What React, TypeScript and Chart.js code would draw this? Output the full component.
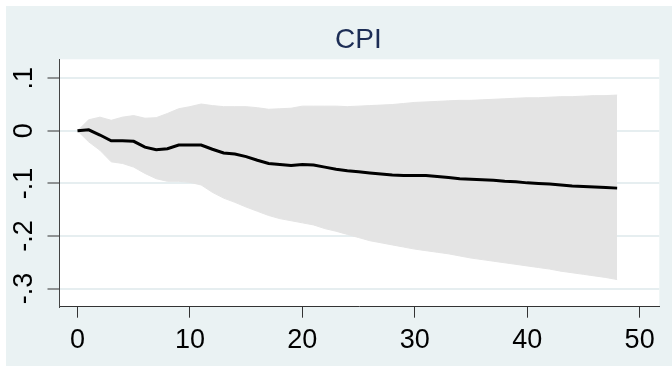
import React, { useEffect, useRef } from "react";
import { Chart, registerables } from "chart.js";

Chart.register(...registerables);

const title = "CPI";
const horizon = [
  0, 1, 2, 3, 4, 5, 6, 7, 8, 9, 10, 11, 12, 13, 14, 15, 16, 17, 18, 19, 20, 21, 22, 23, 24,
  25, 26, 27, 28, 29, 30, 31, 32, 33, 34, 35, 36, 37, 38, 39, 40, 41, 42, 43, 44, 45, 46, 47, 48,
];
const irf = [
  0, 0.002, -0.008, -0.019, -0.019, -0.02, -0.031, -0.036, -0.034, -0.027, -0.027, -0.027, -0.035,
  -0.042, -0.044, -0.049, -0.056, -0.062, -0.064, -0.066, -0.064, -0.065, -0.069, -0.073, -0.076,
  -0.078, -0.08, -0.082, -0.084, -0.085, -0.085, -0.085, -0.087, -0.089, -0.091, -0.092, -0.093,
  -0.094, -0.096, -0.097, -0.099, -0.1, -0.101, -0.103, -0.105, -0.106, -0.107, -0.108, -0.109,
];
const upper = [
  0, 0.021, 0.026, 0.02, 0.026, 0.029, 0.024, 0.025, 0.033, 0.042, 0.046, 0.051, 0.048, 0.046,
  0.046, 0.046, 0.044, 0.041, 0.042, 0.043, 0.047, 0.047, 0.047, 0.047, 0.046, 0.047, 0.048,
  0.049, 0.05, 0.052, 0.054, 0.055, 0.056, 0.057, 0.058, 0.058, 0.059, 0.06, 0.061, 0.062, 0.063,
  0.063, 0.064, 0.065, 0.065, 0.066, 0.067, 0.067, 0.068,
];
const lower = [
  0, -0.021, -0.037, -0.059, -0.062, -0.069, -0.081, -0.091, -0.096, -0.096, -0.098, -0.103,
  -0.117, -0.128, -0.136, -0.145, -0.153, -0.161, -0.167, -0.171, -0.175, -0.179, -0.186, -0.191,
  -0.197, -0.203, -0.209, -0.213, -0.217, -0.221, -0.225, -0.228, -0.231, -0.234, -0.238, -0.242,
  -0.245, -0.248, -0.251, -0.254, -0.257, -0.26, -0.263, -0.267, -0.27, -0.273, -0.276, -0.279,
  -0.283,
];
const xTicks = [0, 10, 20, 30, 40, 50];
const yTicks = [-0.3, -0.2, -0.1, 0, 0.1];
const yTickLabels = ["-.3", "-.2", "-.1", "0", ".1"];

const FONT = '"Liberation Sans", Arial, Helvetica, sans-serif';
const BG = "#EAF2F3";
const BAND = "#E4E4E4";

const toPts = (arr: number[]) => horizon.map((h, i) => ({ x: h, y: arr[i] }));

const decorPlugin = {
  id: "decor",
  beforeDraw(chart: any) {
    const { ctx, chartArea, width, height } = chart;
    ctx.save();
    ctx.fillStyle = "#ffffff";
    ctx.fillRect(0, 0, width, height);
    ctx.fillStyle = BG;
    ctx.fillRect(6, 6, width - 6, height - 6);
    ctx.fillStyle = "#ffffff";
    ctx.fillRect(chartArea.left, chartArea.top, chartArea.right - chartArea.left, chartArea.bottom - chartArea.top);
    ctx.restore();
  },
  afterDraw(chart: any) {
    const { ctx, chartArea } = chart;
    const ys = chart.scales.y;
    ctx.save();
    // title
    ctx.fillStyle = "#1c2d55";
    ctx.font = `28px ${FONT}`;
    ctx.textAlign = "center";
    ctx.textBaseline = "alphabetic";
    ctx.fillText(title, (chartArea.left + chartArea.right) / 2 - 1, 48.3);
    // y tick labels, rotated
    ctx.fillStyle = "#000000";
    ctx.font = `27px ${FONT}`;
    ctx.textAlign = "center";
    ctx.textBaseline = "middle";
    yTicks.forEach((v, i) => {
      const py = ys.getPixelForValue(v);
      ctx.save();
      ctx.translate(25, py);
      ctx.rotate(-Math.PI / 2);
      ctx.fillText(yTickLabels[i], 0, 0);
      ctx.restore();
    });
    ctx.restore();
  },
};

export default function App() {
  const ref = useRef<HTMLCanvasElement | null>(null);
  useEffect(() => {
    if (!ref.current) return;
    const chart = new Chart(ref.current, {
      type: "line",
      data: {
        datasets: [
          {
            label: "irf",
            data: toPts(irf),
            borderColor: "#000000",
            borderWidth: 3,
            pointRadius: 0,
            fill: false,
            tension: 0,
          },
          {
            label: "upper",
            data: toPts(upper),
            borderColor: BAND,
            borderWidth: 1,
            backgroundColor: BAND,
            pointRadius: 0,
            fill: "+1",
            tension: 0,
          },
          {
            label: "lower",
            data: toPts(lower),
            borderColor: BAND,
            borderWidth: 1,
            backgroundColor: BAND,
            pointRadius: 0,
            fill: false,
            tension: 0,
          },
        ],
      },
      options: {
        animation: false,
        responsive: true,
        maintainAspectRatio: false,
        layout: { padding: { top: 59.3, left: 0, right: 12.7, bottom: 0 } },
        plugins: {
          legend: { display: false },
          title: { display: false },
          tooltip: { enabled: false },
        },
        scales: {
          x: {
            type: "linear",
            min: -1.6,
            max: 51.75,
            afterBuildTicks: (scale: any) => {
              scale.ticks = xTicks.map((v) => ({ value: v }));
            },
            afterFit: (scale: any) => {
              scale.height = 59.3;
            },
            grid: {
              drawOnChartArea: false,
              drawTicks: true,
              tickLength: 11,
              tickColor: "#333333",
              tickWidth: 1,
            },
            border: { display: true, color: "#333333", width: 1 },
            ticks: {
              color: "#000000",
              font: { family: FONT, size: 27 },
              padding: 7,
              maxRotation: 0,
              minRotation: 0,
              callback: (v: any) => String(v),
            },
          },
          y: {
            type: "linear",
            min: -0.3346,
            max: 0.1361,
            afterBuildTicks: (scale: any) => {
              scale.ticks = yTicks.map((v) => ({ value: v }));
            },
            afterFit: (scale: any) => {
              scale.width = 59.5;
            },
            grid: {
              drawOnChartArea: true,
              color: "#E6EEF0",
              lineWidth: 2,
              drawTicks: true,
              tickLength: 12,
              tickColor: "#333333",
              tickWidth: 1,
            },
            border: { display: true, color: "#444444", width: 1 },
            ticks: { display: false },
          },
        },
      },
      plugins: [decorPlugin],
    });
    return () => chart.destroy();
  }, []);
  return (
    <div style={{ position: "fixed", left: 0, top: 0, width: 672, height: 366 }}>
      <canvas ref={ref} />
    </div>
  );
}
